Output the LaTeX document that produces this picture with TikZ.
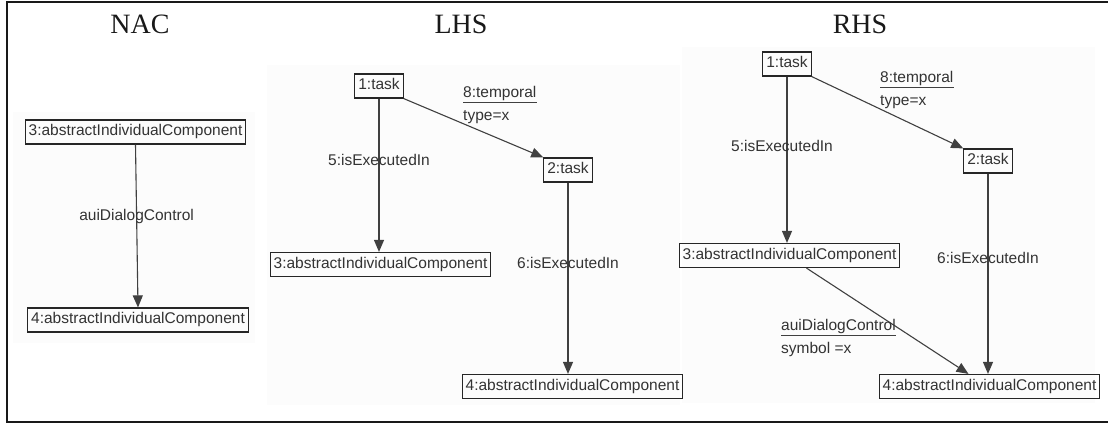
\documentclass[tikz,border=0pt]{standalone}
\usepackage{fontspec}
\setmainfont{Liberation Sans}
\newfontfamily\titlefont{Liberation Serif}
\usetikzlibrary{arrows.meta, calc}

\definecolor{ink}{HTML}{333333}
\definecolor{wire}{HTML}{404040}

\begin{document}
\begin{tikzpicture}[x=1pt, y=-1pt, >={Triangle[length=12pt, width=10pt]},
  object/.style={draw=black!85, line width=1.2pt, rectangle, inner xsep=3.5pt, inner ysep=0pt,
    minimum height=24pt, text height=11pt, text depth=3.5pt, text=ink, font=\fontsize{15.5}{18}\selectfont},
  arrow/.style={->, draw=wire, line width=1.1pt},
  edgetext/.style={text=ink, inner sep=0pt, font=\fontsize{15.5}{18}\selectfont},
  heading/.style={text=black!90, font=\titlefont\fontsize{28}{30}\selectfont},
  underbar/.style={draw=wire, line width=1.3pt}
]
  \useasboundingbox (0,0) rectangle (1108,424);

  % Faint panels and frame
  \fill[black!1] (13,112) rectangle (255,343);
  \fill[black!1] (267,65) rectangle (680,405);
  \fill[black!1] (682,47) rectangle (1095,403);
  \draw[line width=2pt, black!90] (1108,2) -- (7,2) -- (7,422) -- (1108,422);

  % Headings
  \node[heading] (nacT) at (140,24) {NAC};
  \node[heading] (lhsT) at (461,24) {LHS};
  \node[heading] (rhsT) at (860,24) {RHS};

  % Nodes for NAC
  \node[object] (n3) at (135.5,132) {3:abstractIndividualComponent};
  \node[object] (n4) at (138,320) {4:abstractIndividualComponent};

  % Nodes for LHS
  \node[object] (t1) at (379,86) {1:task};
  \node[object] (t2) at (568,170) {2:task};
  \node[object] (c3) at (380.5,264.5) {3:abstractIndividualComponent};
  \node[object] (c4) at (572.5,386.5) {4:abstractIndividualComponent};

  % Nodes for RHS
  \node[object] (t1r) at (787,64) {1:task};
  \node[object] (t2r) at (988,161) {2:task};
  \node[object] (c3r) at (789.5,255.5) {3:abstractIndividualComponent};
  \node[object] (c4r) at (989.5,386.5) {4:abstractIndividualComponent};

  % NAC arrows
  \draw[arrow] (n3.south) -- node[edgetext, pos=0.44] {auiDialogControl} (n4.north);

  % LHS arrows
  \draw[arrow] (t1.south) -- node[edgetext, pos=0.4] {5:isExecutedIn} (t1.south |- c3.north);
  \draw[arrow] (t1.south east) -- (t2.north west);
  \draw[arrow] (t2.south) -- node[edgetext, pos=0.42] {6:isExecutedIn} (t2.south |- c4.north);
  \node[edgetext, anchor=base west] (tempL) at (463,97) {8:temporal};
  \node[edgetext, anchor=base west] (typeL) at (463,120) {type=x};
  \draw[underbar] ([yshift=-2pt]tempL.south west) -- ([yshift=-2pt]tempL.south east);

  % RHS arrows
  \draw[arrow] (t1r.south) -- node[edgetext, pos=0.42, xshift=-5pt] {5:isExecutedIn} (t1r.south |- c3r.north);
  \draw[arrow] (t1r.south east) -- (t2r.north west);
  \draw[arrow] (t2r.south) -- node[edgetext, pos=0.42] {6:isExecutedIn} (t2r.south |- c4r.north);
  \draw[arrow] ([xshift=17pt]c3r.south) -- ([xshift=-21pt]c4r.north);
  \node[edgetext, anchor=base west] (tempR) at (880,82) {8:temporal};
  \node[edgetext, anchor=base west] (typeR) at (880,105) {type=x};
  \draw[underbar] ([yshift=-2pt]tempR.south west) -- ([yshift=-2pt]tempR.south east);
  \node[edgetext, anchor=base west] (auiR) at (781,330) {auiDialogControl};
  \node[edgetext, anchor=base west] (symR) at (781,353) {symbol =x};
  \draw[underbar] ([yshift=-2pt]auiR.south west) -- ([yshift=-2pt]auiR.south east);

\end{tikzpicture}
\end{document}
